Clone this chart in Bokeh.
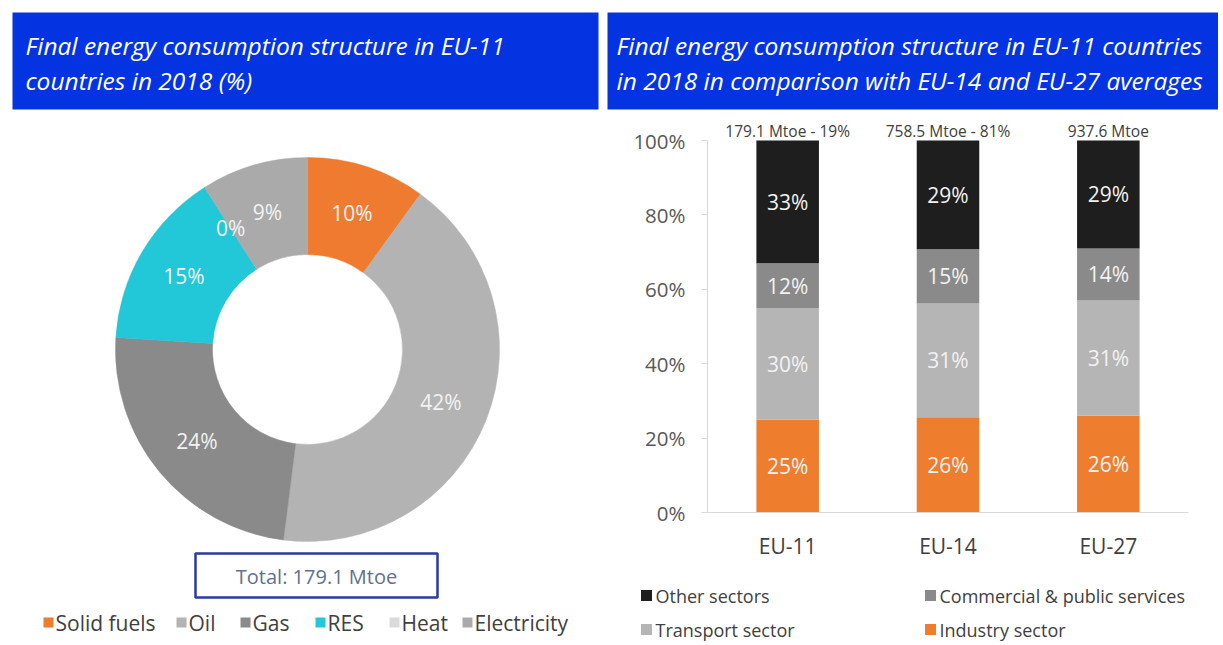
import math
from bokeh.plotting import figure
from bokeh.models import Range1d, ColumnDataSource, FixedTicker, PrintfTickFormatter
from bokeh.layouts import row, column
from bokeh.embed import file_html
from bokeh.resources import INLINE
from bokeh.core.properties import value

# ---------------- data ----------------
left_title = ["Final energy consumption structure in EU-11", "countries in 2018 (%)"]
right_title = ["Final energy consumption structure in EU-11 countries",
               "in 2018 in comparison with EU-14 and EU-27 averages"]

fuel_names = ["Solid fuels", "Oil", "Gas", "RES", "Heat", "Electricity"]
fuel_shares = [10, 42, 24, 15, 0, 9]
total_label = "Total: 179.1 Mtoe"

regions = ["EU-11", "EU-14", "EU-27"]
industry = [25, 25.6, 26]
transport = [30, 30.6, 31]
commercial = [12, 14.6, 14]
other = [33, 29.2, 29]
region_totals = ["179.1 Mtoe - 19%", "758.5 Mtoe - 81%", "937.6 Mtoe"]
sector_names = ["Industry sector", "Transport sector", "Commercial & public services", "Other sectors"]

# ---------------- styles ----------------
BLUE = "#0433E2"
TFONT = value("Open Sans")
FONT = value("Open Sans")
fuel_colors = ["#EE7B30", "#B3B3B3", "#8A8A8A", "#22C7D8", "#DADADA", "#AAAAAA"]
sector_colors = ["#EE7D2E", "#B5B5B5", "#8A8A8A", "#1E1E1E"]


def blank_fig(w, h, **kw):
    p = figure(width=w, height=h, toolbar_location=None, output_backend="svg",
               x_axis_location=None, y_axis_location=None, min_border=0, **kw)
    p.grid.visible = False
    p.outline_line_color = None
    return p


def title_fig(w, h, bl, br, bt, bb, lines, tx):
    fw, fh = w - bl - br, h - bt - bb
    p = blank_fig(w, h, x_range=Range1d(0, fw), y_range=Range1d(0, fh))
    p.min_border_left, p.min_border_right = bl, br
    p.min_border_top, p.min_border_bottom = bt, bb
    p.background_fill_color = BLUE
    p.border_fill_color = "white"
    src = ColumnDataSource(dict(x=[tx] * len(lines), y=[fh - 33, fh - 68], t=lines))
    p.text(x="x", y="y", text="t", source=src, text_color="white", text_font=TFONT,
           text_font_style="italic", text_font_size="24.5px", text_baseline="middle",
           text_align="left")
    return p


t_left = title_fig(606, 112, 12, 8, 12, 3, left_title, 13)
t_right = title_fig(612, 112, 1, 0, 12, 3, right_title, 9)

# ---------------- donut ----------------
d = blank_fig(606, 533, x_range=Range1d(0, 606), y_range=Range1d(0, 533))
cx, cy = 307, 296
r_in, r_out = 95, 192
cum = [0]
for s in fuel_shares:
    cum.append(cum[-1] + s)
starts, ends, cols = [], [], []
for i, s in enumerate(fuel_shares):
    if s > 0:
        starts.append(math.radians(90 - 3.6 * cum[i]))
        ends.append(math.radians(90 - 3.6 * cum[i + 1]))
        cols.append(fuel_colors[i])
wsrc = ColumnDataSource(dict(s=starts, e=ends, c=cols))
d.annular_wedge(x=cx, y=cy, inner_radius=r_in, outer_radius=r_out,
                inner_radius_units="screen", outer_radius_units="screen",
                start_angle="s", end_angle="e", direction="clock",
                fill_color="c", line_color="c", line_width=0.5, source=wsrc)

r_lab = (r_in + r_out) / 2
lx, ly, lt = [], [], []
for i, s in enumerate(fuel_shares):
    th = math.radians(3.6 * (cum[i] + s / 2))
    lx.append(cx + r_lab * math.sin(th))
    ly.append(cy + r_lab * math.cos(th))
    lt.append(f"{s}%")
d.text(x=lx, y=ly, text=lt, text_color="#F2F2F2", text_font=FONT, text_font_size="21px",
       text_align="center", text_baseline="middle")

# total box
d.quad(left=195, right=437, bottom=48, top=92, fill_color=None, line_color="#2B3AA0", line_width=2.5)
d.text(x=[316], y=[69], text=[total_label], text_color="#61708F", text_font=FONT,
       text_font_size="20px", text_align="center", text_baseline="middle")

# legend
leg_x = [48, 181, 245, 320, 394, 467]
d.scatter(x=leg_x, y=[23] * 6, marker="square", size=10, fill_color=fuel_colors, line_color=None)
d.text(x=[v + 7 for v in leg_x], y=[23] * 6, text=fuel_names, text_color="#404040", text_font=FONT,
       text_font_size="21px", text_align="left", text_baseline="middle")

# ---------------- stacked bars ----------------
b = figure(width=612, height=450, x_range=regions, y_range=Range1d(0, 107),
           toolbar_location=None, output_backend="svg",
           min_border_left=101, min_border_right=30, min_border_top=2, min_border_bottom=50)
b.grid.visible = False
b.outline_line_color = None
keys = ["industry", "transport", "commercial", "other"]
bsrc = ColumnDataSource(dict(region=regions, industry=industry, transport=transport,
                             commercial=commercial, other=other))
b.vbar_stack(keys, x="region", width=0.39, color=sector_colors, line_color=None, source=bsrc)

bx, by, bt = [], [], []
series = [industry, transport, commercial, other]
for j, r in enumerate(regions):
    base = 0
    for s in series:
        bx.append(r)
        by.append(base + s[j] / 2)
        bt.append(f"{round(s[j])}%")
        base += s[j]
b.text(x=bx, y=by, text=bt, text_color="#F2F2F2", text_font=FONT, text_font_size="21px",
       text_align="center", text_baseline="middle")
b.text(x=regions, y=[100] * 3, text=region_totals, y_offset=-10, text_color="#404040",
       text_font=FONT, text_font_size="15.5px", text_align="center", text_baseline="middle")

ya = b.yaxis[0]
ya.ticker = FixedTicker(ticks=[0, 20, 40, 60, 80, 100])
ya.formatter = PrintfTickFormatter(format="%d%%")
ya.bounds = (0, 100)
ya.axis_line_color = "#D9D9D9"
ya.major_tick_line_color = "#D9D9D9"
ya.major_tick_out = 6
ya.major_tick_in = 0
ya.minor_tick_line_color = None
ya.major_label_text_font = "Open Sans"
ya.major_label_text_font_size = "20.5px"
ya.major_label_text_color = "#595959"
ya.major_label_standoff = 16

xa = b.xaxis[0]
xa.axis_line_color = "#D9D9D9"
xa.major_tick_line_color = None
xa.major_tick_out = 0
xa.major_label_text_font = "Open Sans"
xa.major_label_text_font_size = "21px"
xa.major_label_text_color = "#404040"
xa.major_label_standoff = 19

# bar legend (own small figure; rows: Other | Commercial, Transport | Industry)
lg = blank_fig(612, 83, x_range=Range1d(0, 612), y_range=Range1d(0, 83))
order = [3, 2, 1, 0]
lgx = [40, 324, 40, 324]
lgy = [50, 50, 16, 16]
lg.scatter(x=lgx, y=lgy, marker="square", size=11,
           fill_color=[sector_colors[i] for i in order], line_color=None)
lg.text(x=[v + 9 for v in lgx], y=lgy, text=[sector_names[i] for i in order],
        text_color="#404040", text_font=FONT, text_font_size="18px",
        text_align="left", text_baseline="middle")

layout = column(row(t_left, t_right), row(d, column(b, row(lg))))
open("out.html", "w").write(file_html(layout, INLINE))
